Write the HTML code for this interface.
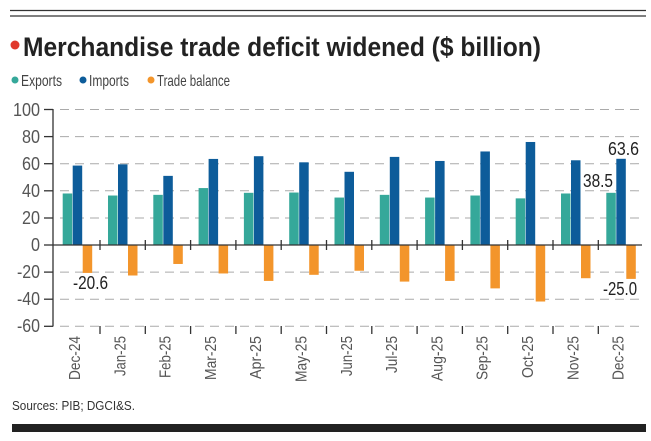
<!DOCTYPE html>
<html><head><meta charset="utf-8"><style>
html,body{margin:0;padding:0;background:#fff;}
svg{display:block;font-family:"Liberation Sans",sans-serif;}
</style></head><body>
<svg id="s" width="651" height="441" viewBox="0 0 651 441" xmlns="http://www.w3.org/2000/svg">
<rect width="651" height="441" fill="#fff"/>
<line x1="10" y1="10.5" x2="646" y2="10.5" stroke="#333" stroke-width="1.2"/>
<line x1="10" y1="16" x2="646" y2="16" stroke="#333" stroke-width="1.2"/>
<circle cx="15" cy="45" r="4.5" fill="#e0382c"/>
<text x="23" y="56" font-weight="bold" font-size="27" fill="#222" textLength="518" lengthAdjust="spacingAndGlyphs">Merchandise trade deficit widened ($ billion)</text>
<circle cx="15" cy="80" r="3.5" fill="#35a89a"/>
<text x="21" y="86" font-size="16" fill="#444" textLength="41" lengthAdjust="spacingAndGlyphs">Exports</text>
<circle cx="83" cy="80" r="3.5" fill="#0d5c9a"/>
<text x="89" y="86" font-size="16" fill="#444" textLength="40" lengthAdjust="spacingAndGlyphs">Imports</text>
<circle cx="151" cy="80" r="3.5" fill="#f3952b"/>
<text x="157" y="86" font-size="16" fill="#444" textLength="73" lengthAdjust="spacingAndGlyphs">Trade balance</text>
<g stroke="#aaa" stroke-width="1" stroke-dasharray="9,6">
<line x1="60" y1="109.5" x2="642" y2="109.5"/>
<line x1="60" y1="136.6" x2="642" y2="136.6"/>
<line x1="60" y1="163.7" x2="642" y2="163.7"/>
<line x1="60" y1="190.8" x2="642" y2="190.8"/>
<line x1="60" y1="218" x2="642" y2="218"/>
<line x1="60" y1="272.1" x2="642" y2="272.1"/>
<line x1="60" y1="299.2" x2="642" y2="299.2"/>
<line x1="60" y1="326.3" x2="642" y2="326.3"/>
</g>
<g font-size="18" fill="#555" text-anchor="end" lengthAdjust="spacingAndGlyphs">
<text x="40" y="116" textLength="27" lengthAdjust="spacingAndGlyphs">100</text>
<text x="40" y="143" textLength="18" lengthAdjust="spacingAndGlyphs">80</text>
<text x="40" y="170" textLength="18" lengthAdjust="spacingAndGlyphs">60</text>
<text x="40" y="197" textLength="18" lengthAdjust="spacingAndGlyphs">40</text>
<text x="40" y="224" textLength="18" lengthAdjust="spacingAndGlyphs">20</text>
<text x="40" y="251" textLength="9" lengthAdjust="spacingAndGlyphs">0</text>
<text x="40" y="278" textLength="23" lengthAdjust="spacingAndGlyphs">-20</text>
<text x="40" y="305" textLength="23" lengthAdjust="spacingAndGlyphs">-40</text>
<text x="40" y="332" textLength="23" lengthAdjust="spacingAndGlyphs">-60</text>
</g>
<g id="bars"></g>
<g stroke="#333" stroke-width="1.3">
<line x1="53" y1="109" x2="53" y2="326.5"/>
<line x1="53" y1="245" x2="642" y2="245"/>
<line x1="44" y1="109.5" x2="53" y2="109.5"/><line x1="44" y1="136.6" x2="53" y2="136.6"/><line x1="44" y1="163.7" x2="53" y2="163.7"/><line x1="44" y1="190.8" x2="53" y2="190.8"/><line x1="44" y1="218" x2="53" y2="218"/><line x1="44" y1="245" x2="53" y2="245"/><line x1="44" y1="272.1" x2="53" y2="272.1"/><line x1="44" y1="299.2" x2="53" y2="299.2"/><line x1="44" y1="326.3" x2="53" y2="326.3"/>
</g>
<g id="ticks" stroke="#333" stroke-width="1.3"></g>
<g font-size="16" fill="#555" text-anchor="end">
<text transform="translate(80,336) rotate(-90)" textLength="44" lengthAdjust="spacingAndGlyphs">Dec-24</text>
<text transform="translate(125.3,336) rotate(-90)" textLength="40" lengthAdjust="spacingAndGlyphs">Jan-25</text>
<text transform="translate(170.6,336) rotate(-90)" textLength="42" lengthAdjust="spacingAndGlyphs">Feb-25</text>
<text transform="translate(215.9,336) rotate(-90)" textLength="44" lengthAdjust="spacingAndGlyphs">Mar-25</text>
<text transform="translate(261.2,336) rotate(-90)" textLength="43" lengthAdjust="spacingAndGlyphs">Apr-25</text>
<text transform="translate(306.5,336) rotate(-90)" textLength="46" lengthAdjust="spacingAndGlyphs">May-25</text>
<text transform="translate(351.8,336) rotate(-90)" textLength="40" lengthAdjust="spacingAndGlyphs">Jun-25</text>
<text transform="translate(397.1,336) rotate(-90)" textLength="37" lengthAdjust="spacingAndGlyphs">Jul-25</text>
<text transform="translate(442.4,336) rotate(-90)" textLength="45" lengthAdjust="spacingAndGlyphs">Aug-25</text>
<text transform="translate(487.7,336) rotate(-90)" textLength="44" lengthAdjust="spacingAndGlyphs">Sep-25</text>
<text transform="translate(533,336) rotate(-90)" textLength="42" lengthAdjust="spacingAndGlyphs">Oct-25</text>
<text transform="translate(578.3,336) rotate(-90)" textLength="44" lengthAdjust="spacingAndGlyphs">Nov-25</text>
<text transform="translate(623.6,336) rotate(-90)" textLength="44" lengthAdjust="spacingAndGlyphs">Dec-25</text>
</g>
<g font-size="18" fill="#222">
<text x="73" y="289" textLength="35" lengthAdjust="spacingAndGlyphs">-20.6</text>
<text x="583" y="187" textLength="30" lengthAdjust="spacingAndGlyphs">38.5</text>
<text x="608" y="155" textLength="31" lengthAdjust="spacingAndGlyphs">63.6</text>
<text x="603" y="295" textLength="34" lengthAdjust="spacingAndGlyphs">-25.0</text>
</g>
<text x="12" y="410" font-size="13" fill="#333" textLength="123" lengthAdjust="spacingAndGlyphs">Sources: PIB; DGCI&amp;S.</text>
<rect x="12" y="424" width="634" height="8" fill="#222"/>
</svg>
<script>
var ex=[38,36.5,37,42,38.5,38.7,35,37,35,36.5,34.4,38,38.5];
var im=[58.6,59.5,51,63.5,65.5,61,54,65,62,69,76,62.5,63.6];
var tb=[-20.6,-22.5,-14,-21,-26.5,-22,-19,-27,-26.5,-32,-41.7,-24.5,-25];
var ns="http://www.w3.org/2000/svg",g=document.getElementById("bars"),t=document.getElementById("ticks");
function y(v){return 245-v*1.3555;}
function r(x,v,c){var e=document.createElementNS(ns,"rect");var a=y(v),b=245;e.setAttribute("x",x);e.setAttribute("y",Math.min(a,b));e.setAttribute("width",9.5);e.setAttribute("height",Math.abs(a-b));e.setAttribute("fill",c);g.appendChild(e);}
for(var i=0;i<13;i++){var s=54.7+45.3*i;r(s+8,ex[i],"#35a89a");r(s+18,im[i],"#0d5c9a");r(s+28,tb[i],"#f3952b");
if(i>0){var l=document.createElementNS(ns,"line");l.setAttribute("x1",s);l.setAttribute("x2",s);l.setAttribute("y1",240);l.setAttribute("y2",250);t.appendChild(l);
var l2=document.createElementNS(ns,"line");l2.setAttribute("x1",s);l2.setAttribute("x2",s);l2.setAttribute("y1",326);l2.setAttribute("y2",334);t.appendChild(l2);}}
</script>
</body></html>
